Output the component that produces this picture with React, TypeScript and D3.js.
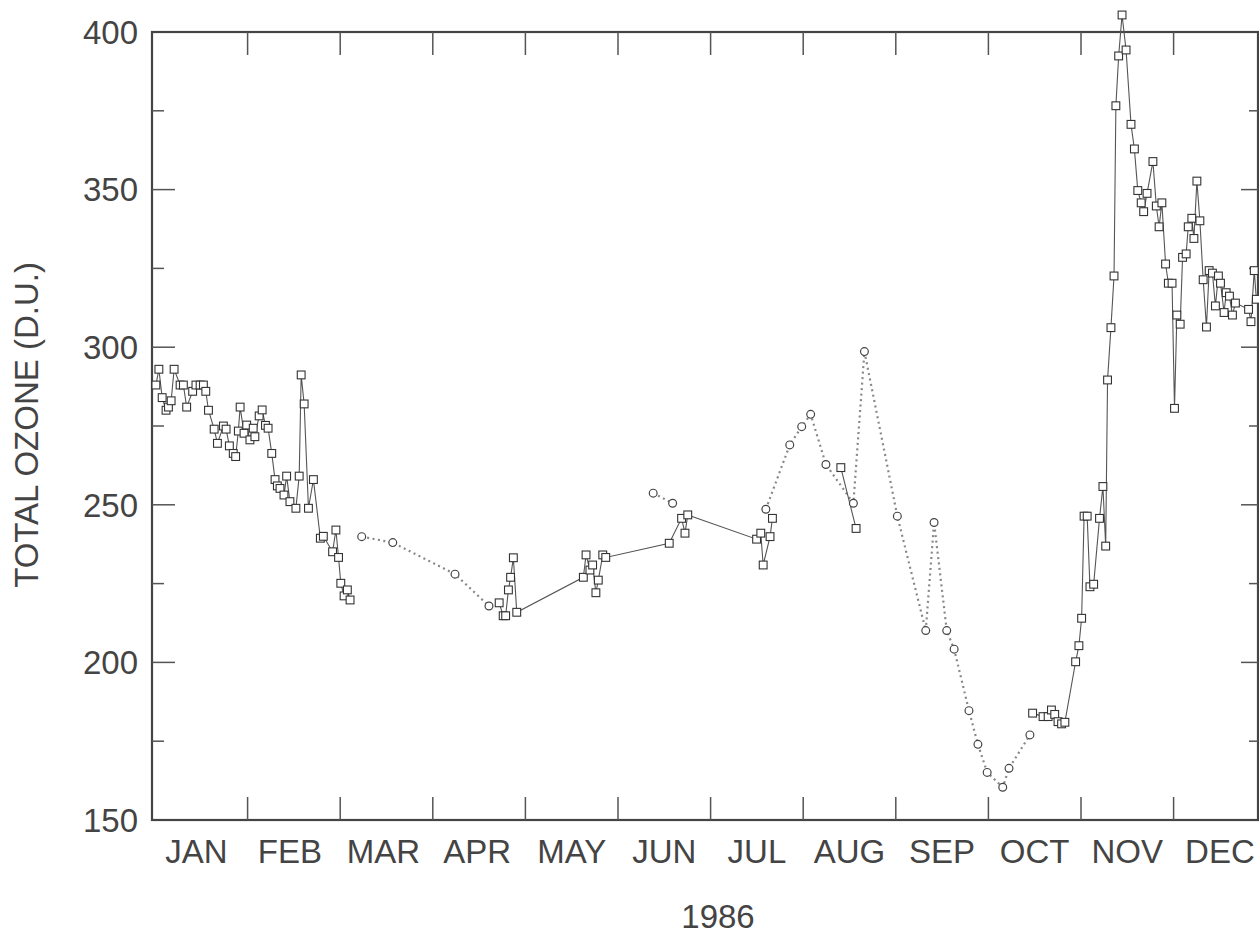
import React from "react";
import * as d3 from "d3";

// day of year (1986) -> total ozone
const monthNames = ["JAN", "FEB", "MAR", "APR", "MAY", "JUN", "JUL", "AUG", "SEP", "OCT", "NOV", "DEC"];
const monthStarts = [1, 32, 60, 91, 121, 152, 182, 213, 244, 274, 305, 335, 366];
const yTickValues = [150, 175, 200, 225, 250, 275, 300, 325, 350, 375, 400];
const yLabelValues = [150, 200, 250, 300, 350, 400];
const yearLabel = "1986";
const yTitle = "TOTAL OZONE (D.U.)";

const squaresJanMar: [number, number][] = [
  [1.3, 288], [2.3, 293], [3.4, 284], [4.7, 280], [5.5, 281], [6.4, 283], [7.4, 293], [9.4, 288],
  [10.5, 288], [11.6, 281], [13.6, 286], [14.7, 288], [16.1, 288], [17.2, 288], [18.0, 286], [18.9, 280],
  [20.8, 274], [21.9, 269.5], [23.9, 275], [24.8, 274], [25.9, 268.7], [27.2, 266.3], [28.0, 265.3],
  [28.9, 273.4], [29.5, 281], [30.8, 272.7], [31.7, 275.3], [32.7, 270.6], [33.7, 274.3], [34.2, 271.6],
  [35.5, 278.2], [36.4, 280.1], [37.4, 275.2], [38.2, 274.3], [39.3, 266.3], [40.3, 258], [41.0, 256],
  [41.8, 255.2], [43.0, 253.1], [43.8, 259.1], [44.8, 251], [46.6, 248.9], [47.6, 259.1], [48.2, 291.2],
  [49.1, 282], [50.4, 248.9], [51.9, 258], [54.0, 239.4], [54.9, 240], [57.7, 235.1], [58.7, 242],
  [59.5, 233.3], [60.2, 225.1], [61.3, 221.1], [62.4, 223], [63.3, 219.8],
];
const squaresAprJul: [number, number][] = [
  [112.5, 218.9], [113.8, 214.8], [114.6, 214.8], [115.5, 223], [116.2, 227], [117.1, 233.2], [118.2, 215.9],
  [140.4, 227], [141.3, 234.1], [142.6, 229.3], [143.5, 230.9], [144.6, 222.1], [145.4, 226.1], [146.9, 234.1],
  [147.9, 233.3], [168.6, 237.8], [172.6, 245.7], [173.7, 241], [174.6, 246.8], [197.4, 239.1], [198.8, 241],
  [199.6, 230.9], [201.9, 239.9], [202.7, 245.7],
];
const squaresAug: [number, number][] = [[225.6, 261.8], [230.7, 242.5]];
const squaresOctDec: [number, number][] = [
  [288.8, 183.9], [292.3, 182.8], [294.0, 182.8], [295.1, 184.9], [296.2, 183.5], [297.3, 181.2], [298.5, 180.5],
  [299.6, 181], [303.2, 200.2], [304.3, 205.3], [305.2, 214], [306.0, 246.4], [307.0, 246.4], [307.9, 224],
  [309.1, 224.8], [311.0, 245.7], [312.1, 255.8], [313.0, 236.9], [313.6, 289.6], [314.7, 306.2], [315.7, 322.6],
  [316.3, 376.6], [317.2, 392.4], [318.3, 405.4], [319.6, 394.3], [321.2, 370.7], [322.3, 362.9], [323.4, 349.7],
  [324.5, 345.8], [325.3, 343], [326.4, 348.8], [328.3, 358.9], [329.4, 344.8], [330.3, 338.2], [331.2, 345.8],
  [332.4, 326.4], [333.3, 320.3], [334.5, 320.3], [335.3, 280.6], [336.1, 310.2], [337.2, 307.3], [338.0, 328.5],
  [339.2, 329.6], [339.9, 338.2], [341.1, 340.9], [341.8, 334.5], [342.8, 352.7], [343.8, 340.1], [344.9, 321.4],
  [346.0, 306.4], [346.9, 324.3], [348.0, 323.5], [349.0, 313.1], [350.0, 322.6], [350.7, 320.3], [351.9, 311],
  [352.6, 317.3], [353.7, 316.2], [354.7, 310.2], [355.7, 314], [360.1, 312], [360.9, 308.1], [362.0, 324.3],
  [362.7, 315.2],
];
const circlesMarApr: [number, number][] = [[67.2, 239.9], [77.6, 238], [98.2, 228], [109.2, 217.9]];
const circlesJun: [number, number][] = [[163.4, 253.7], [169.7, 250.5]];
const circlesJulOct: [number, number][] = [
  [200.5, 248.6], [208.5, 269], [212.5, 274.8], [215.5, 278.7], [220.6, 262.8], [229.8, 250.5], [233.5, 298.6],
  [244.5, 246.4], [253.7, 210.1], [256.4, 244.4], [260.5, 210.1], [262.9, 204.2], [267.7, 184.7], [270.6, 174],
  [273.6, 165.1], [278.8, 160.4], [280.9, 166.4], [287.9, 177],
];

const squareSeries = [squaresJanMar, squaresAprJul, squaresAug, squaresOctDec];
const circleSeries = [circlesMarApr, circlesJun, circlesJulOct];

export default function App() {
  const width = 1259;
  const height = 934;
  const left = 152, right = 1258, top = 32, bottom = 820;
  const x0 = 155, monthW = 92.6;

  // months drawn with equal widths, like the original plot
  const x = d3.scaleLinear().domain(monthStarts).range(monthStarts.map((_, i) => x0 + i * monthW));
  const y = d3.scaleLinear().domain([150, 400]).range([bottom, top]);
  const line = d3.line<[number, number]>().x(d => x(d[0])).y(d => y(d[1]));

  const ink = "#444";
  const font = "'Liberation Sans', Arial, Helvetica, sans-serif";

  return (
    <svg width={width} height={height} style={{ position: "absolute", left: 0, top: 0, background: "#fff" }}>
      {/* frame */}
      <rect x={left} y={top} width={right - left} height={bottom - top} fill="none" stroke="#444" strokeWidth={2.2} />

      {/* y ticks, both sides */}
      {yTickValues.filter(v => v > 150 && v < 400).map(v => {
        const major = v % 50 === 0;
        return (
          <g key={"yt" + v} stroke="#555" strokeWidth={1.5}>
            <line x1={left} x2={left + (major ? 23 : 12)} y1={y(v)} y2={y(v)} />
            <line x1={right} x2={right - (major ? 17 : 9)} y1={y(v)} y2={y(v)} />
          </g>
        );
      })}
      {yLabelValues.map(v => (
        <text key={"yl" + v} x={138} y={y(v)} dy="0.36em" textAnchor="end" fontSize={33} fill={ink} fontFamily={font}>
          {v}
        </text>
      ))}

      {/* month ticks, top and bottom */}
      {monthStarts.slice(1, 12).map(d => (
        <g key={"mt" + d} stroke="#555" strokeWidth={1.5}>
          <line x1={x(d)} x2={x(d)} y1={top} y2={top + 23} />
          <line x1={x(d)} x2={x(d)} y1={bottom} y2={bottom - 23} />
        </g>
      ))}
      {monthNames.map((m, i) => (
        <text key={m} x={x((monthStarts[i] + monthStarts[i + 1]) / 2) - (i < 4 ? 5 - i : 0)} y={863}
          textAnchor="middle" fontSize={33} fill={ink} fontFamily={font}>
          {m}
        </text>
      ))}
      <text x={718} y={928} textAnchor="middle" fontSize={33} fill={ink} fontFamily={font}>{yearLabel}</text>
      <text transform="translate(38,425) rotate(-90)" textAnchor="middle" fontSize={33} fill={ink} fontFamily={font}>
        {yTitle}
      </text>

      {/* dotted series with circles */}
      {circleSeries.map((s, i) => (
        <path key={"cl" + i} d={line(s) || ""} fill="none" stroke="#888" strokeWidth={2.2} strokeDasharray="2,3.5" />
      ))}
      {/* solid series with squares */}
      {squareSeries.map((s, i) => (
        <path key={"sl" + i} d={line(s) || ""} fill="none" stroke="#555" strokeWidth={1.1} />
      ))}
      {circleSeries.flat().map((d, i) => (
        <circle key={"c" + i} cx={x(d[0])} cy={y(d[1])} r={3.9} fill="#fff" stroke="#444" strokeWidth={1.2} />
      ))}
      {squareSeries.flat().map((d, i) => (
        <rect key={"s" + i} x={x(d[0]) - 3.9} y={y(d[1]) - 3.9} width={7.8} height={7.8}
          fill="#fff" stroke="#333" strokeWidth={1.1} />
      ))}
    </svg>
  );
}
